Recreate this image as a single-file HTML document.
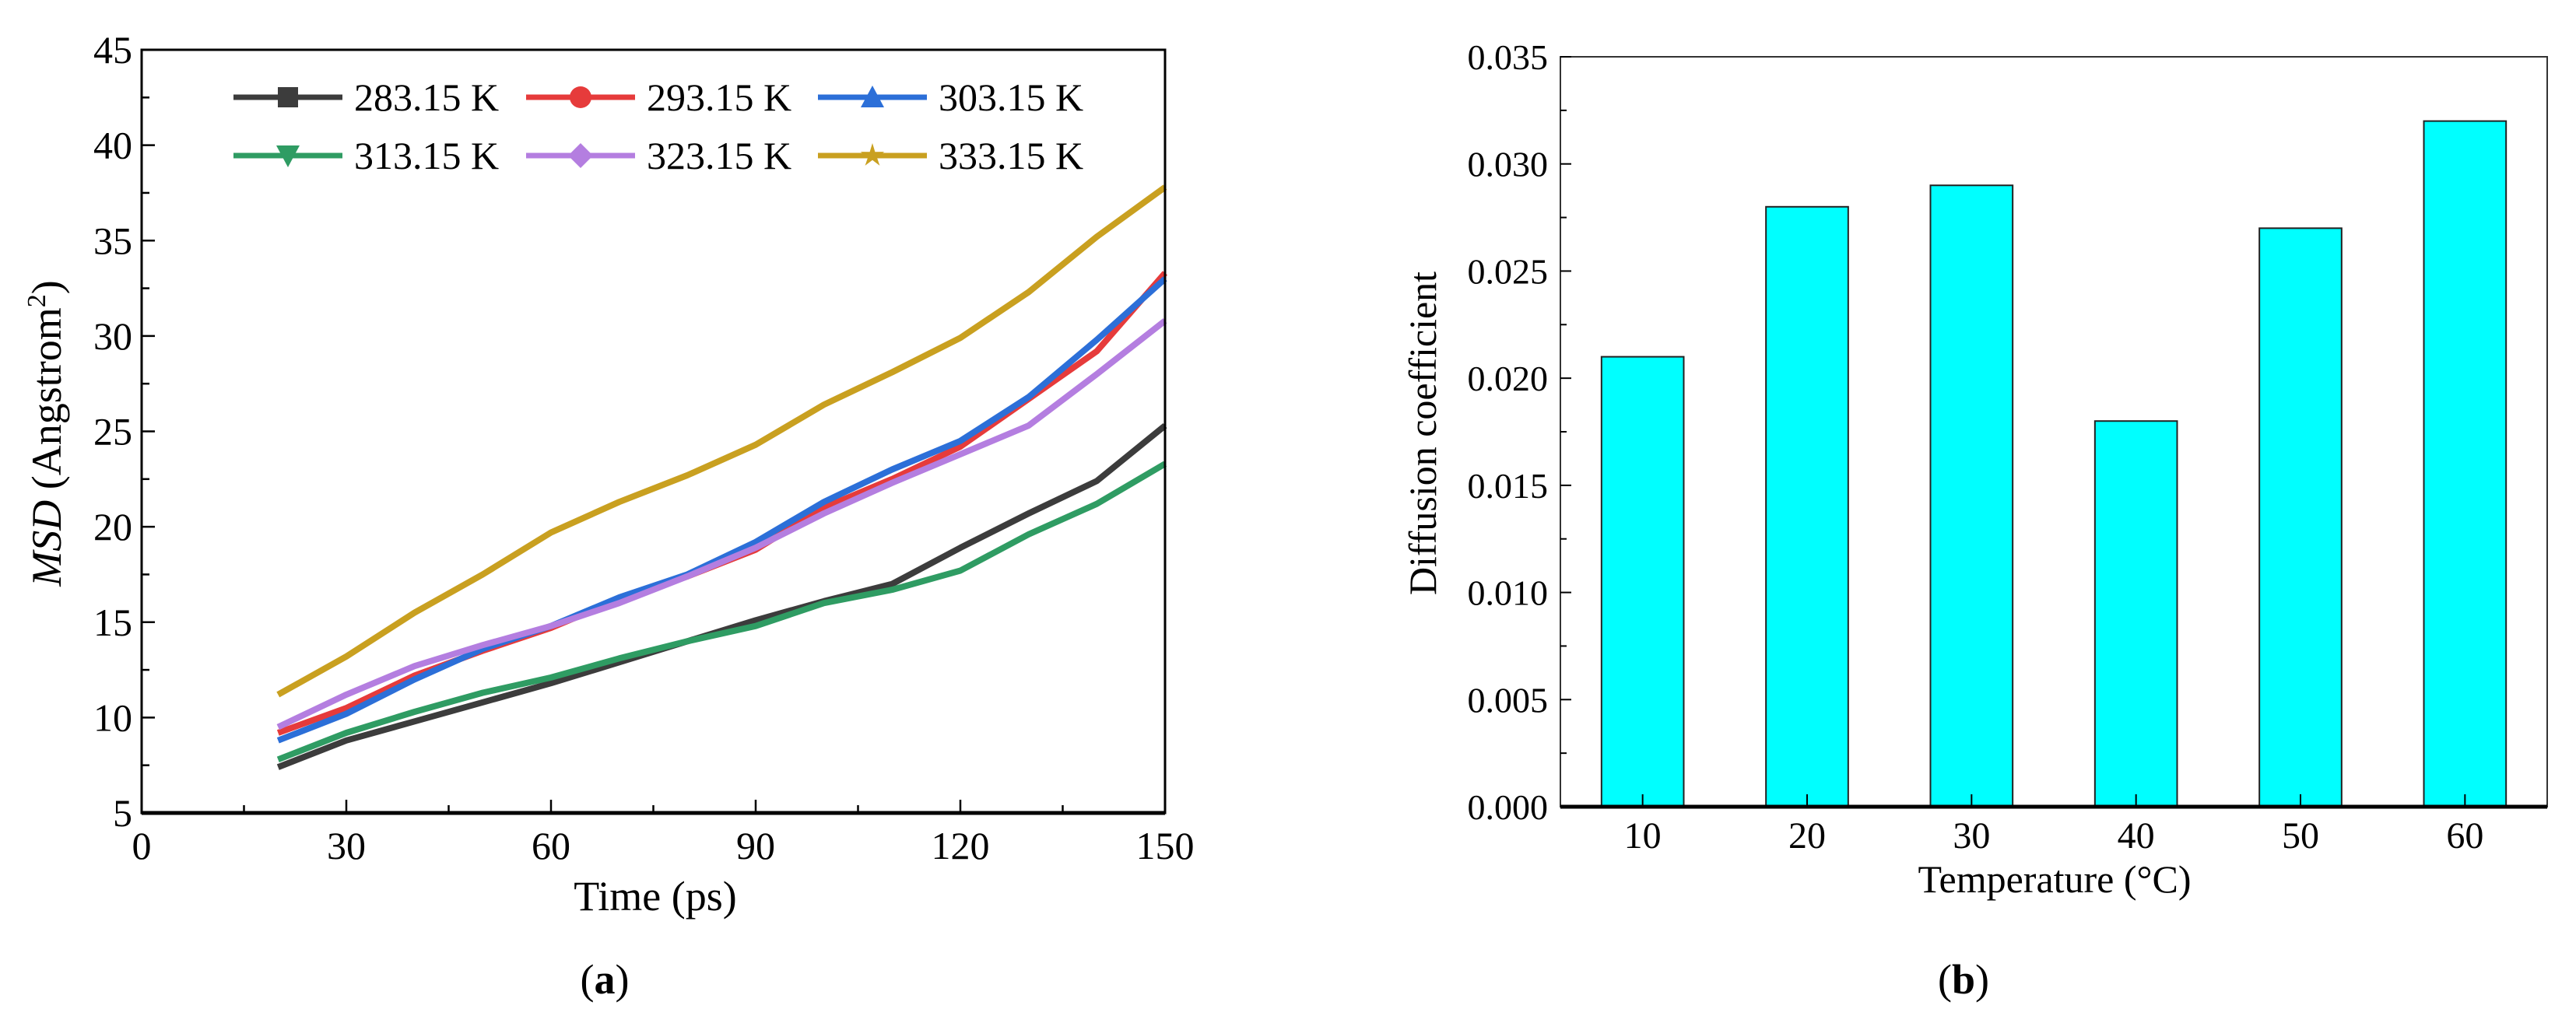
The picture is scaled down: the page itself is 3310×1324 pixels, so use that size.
<!DOCTYPE html>
<html><head><meta charset="utf-8"><style>
html,body{margin:0;padding:0;background:#fff}
svg{display:block;font-family:"Liberation Serif",serif}
</style></head><body>
<svg id="fig" width="3310" height="1324" viewBox="0 0 3310 1324" xmlns="http://www.w3.org/2000/svg">
<g id="pa"></g>
<g id="pb"></g>
</svg>
<script>
// ---- Chart (a) data ----
const times = [20,30,40,50,60,70,80,90,100,110,120,130,140,150];
const seriesNames = ["283.15 K","293.15 K","303.15 K","313.15 K","323.15 K","333.15 K"];
const s283 = [7.4,8.8,9.8,10.8,11.8,12.9,14.0,15.1,16.1,17.0,18.9,20.7,22.4,25.3];
const s293 = [9.2,10.5,12.2,13.5,14.7,16.2,17.4,18.8,21.0,22.5,24.2,26.7,29.2,33.3];
const s303 = [8.8,10.2,12.0,13.6,14.8,16.3,17.5,19.2,21.3,23.0,24.5,26.8,29.8,33.0];
const s313 = [7.8,9.2,10.3,11.3,12.1,13.1,14.0,14.8,16.0,16.7,17.7,19.6,21.2,23.3];
const s323 = [9.5,11.2,12.7,13.8,14.8,16.0,17.4,18.9,20.7,22.3,23.8,25.3,28.0,30.8];
const s333 = [11.2,13.2,15.5,17.5,19.7,21.3,22.7,24.3,26.4,28.1,29.9,32.3,35.2,37.8];
const xTicksA = [0,30,60,90,120,150];
const yTicksA = [5,10,15,20,25,30,35,40,45];
// ---- Chart (b) data ----
const temps = [10,20,30,40,50,60];
const diffVals = [0.021,0.028,0.029,0.018,0.027,0.032];
const yTicksB = [0,0.005,0.010,0.015,0.020,0.025,0.030,0.035];

const NS="http://www.w3.org/2000/svg";
function mk(parent,tag,attrs,text){const e=document.createElementNS(NS,tag);for(const k in attrs)e.setAttribute(k,attrs[k]);if(text!==undefined)e.textContent=text;parent.appendChild(e);return e;}

// ===== Chart A =====
const pa=document.getElementById('pa');
const AL=182,AR=1497,AT=64,AB=1045;
const xa=v=>AL+(v-0)/(150-0)*(AR-AL);
const ya=v=>AB-(v-5)/(45-5)*(AB-AT);
const colors=["#3c3c3c","#e63b3b","#2c6fd8","#2f9c63","#b47ee0","#c9a020"];
const allS=[s283,s293,s303,s313,s323,s333];
allS.forEach((s,i)=>{
  const pts=s.map((v,j)=>xa(times[j]).toFixed(1)+","+ya(v).toFixed(1)).join(" ");
  const pl=mk(pa,'polyline',{points:pts,fill:'none',stroke:colors[i],'stroke-width':8,'stroke-linejoin':'round'});
  
  
});
const fa=mk(pa,'rect',{x:AL,y:AT,width:AR-AL,height:AB-AT,fill:'none',stroke:'#000','stroke-width':3});


mk(pa,'line',{x1:AL,y1:AB,x2:AR,y2:AB,stroke:'#000','stroke-width':5});
for(let v=0;v<=150;v+=15){const maj=v%30===0;mk(pa,'line',{x1:xa(v),y1:AB,x2:xa(v),y2:AB-(maj?17:10),stroke:'#000','stroke-width':2.5});}
xTicksA.forEach(v=>{const t=mk(pa,'text',{x:xa(v),y:1104,'font-size':50,'text-anchor':'middle'},String(v));
  
  });
for(let v=5;v<=45;v+=2.5){const maj=v%5===0;mk(pa,'line',{x1:AL,y1:ya(v),x2:AL+(maj?17:10),y2:ya(v),stroke:'#000','stroke-width':2.5});}
yTicksA.forEach(v=>{const t=mk(pa,'text',{x:AL-12,y:ya(v)+17,'font-size':50,'text-anchor':'end'},String(v));
  
  });
const xtA=mk(pa,'text',{x:842,y:1170,'font-size':54,'text-anchor':'middle'},'Time (ps)');


const ytA=mk(pa,'text',{x:0,y:0,'font-size':54,'text-anchor':'middle',transform:'translate(78,557) rotate(-90)'});


mk(ytA,'tspan',{'font-style':'italic'},'MSD');
mk(ytA,'tspan',{},' (Angstrom');
mk(ytA,'tspan',{'font-size':34,dy:-20},'2');
mk(ytA,'tspan',{dy:20},')');
const capA=mk(pa,'text',{x:777,y:1277,'font-size':54,'text-anchor':'middle'});


mk(capA,'tspan',{},'(');mk(capA,'tspan',{'font-weight':'bold'},'a');mk(capA,'tspan',{},')');
const legX=[300,676,1051],legY=[125,200];
function marker(g,type,cx,cy,c){
  const r=13;
  if(type===0)mk(g,'rect',{x:cx-r,y:cy-r,width:2*r,height:2*r,fill:c});
  else if(type===1)mk(g,'circle',{cx:cx,cy:cy,r:r+1,fill:c});
  else if(type===2)mk(g,'polygon',{points:`${cx},${cy-r-2} ${cx+r+2},${cy+r} ${cx-r-2},${cy+r}`,fill:c});
  else if(type===3)mk(g,'polygon',{points:`${cx},${cy+r+2} ${cx+r+2},${cy-r} ${cx-r-2},${cy-r}`,fill:c});
  else if(type===4)mk(g,'polygon',{points:`${cx},${cy-r-3} ${cx+r+3},${cy} ${cx},${cy+r+3} ${cx-r-3},${cy}`,fill:c});
  else{let p=[];for(let k=0;k<10;k++){const a=-Math.PI/2+k*Math.PI/5;const rr=k%2?r*0.45:r+3;p.push((cx+rr*Math.cos(a)).toFixed(1)+","+(cy+rr*Math.sin(a)).toFixed(1));}mk(g,'polygon',{points:p.join(" "),fill:c});}
}
seriesNames.forEach((n,i)=>{
  const g=mk(pa,'g',{});
  
  
  const x=legX[i%3],y=legY[Math.floor(i/3)];
  mk(g,'line',{x1:x,y1:y,x2:x+140,y2:y,stroke:colors[i],'stroke-width':7});
  marker(g,i,x+70,y,colors[i]);
  mk(g,'text',{x:x+155,y:y+17,'font-size':50},n);
});

// ===== Chart B =====
const pb=document.getElementById('pb');
const BL=2005,BR=3273,BT=73,BB=1037;
const xb=v=>BL+(v-5)/(65-5)*(BR-BL);
const yb=v=>BB-(v-0)/(0.035)*(BB-BT);
temps.forEach((t,i)=>{
  const w=xb(10)-xb(5);
  const r=mk(pb,'rect',{x:xb(t)-w/2,y:yb(diffVals[i]),width:w,height:BB-yb(diffVals[i]),fill:'#00ffff',stroke:'#222','stroke-width':2});
  
  
});
const fb=mk(pb,'rect',{x:BL,y:BT,width:BR-BL,height:BB-BT,fill:'none',stroke:'#333','stroke-width':2});


mk(pb,'line',{x1:BL,y1:BB,x2:BR,y2:BB,stroke:'#000','stroke-width':5});
temps.forEach(t=>{
  mk(pb,'line',{x1:xb(t),y1:BB,x2:xb(t),y2:BB-16,stroke:'#000','stroke-width':2});
  const tx=mk(pb,'text',{x:xb(t),y:1090,'font-size':48,'text-anchor':'middle'},String(t));
  
  
});
for(let k=0;k<=14;k++){const v=k*0.0025;mk(pb,'line',{x1:BL,y1:yb(v),x2:BL+(k%2?8:14),y2:yb(v),stroke:'#000','stroke-width':2});}
yTicksB.forEach(v=>{const t=mk(pb,'text',{x:BL-16,y:yb(v)+16,'font-size':46,'text-anchor':'end'},v.toFixed(3));
  
  });
const xtB=mk(pb,'text',{x:2640,y:1147,'font-size':50,'text-anchor':'middle'},'Temperature (°C)');


const ytB=mk(pb,'text',{x:0,y:0,'font-size':50,'text-anchor':'middle',transform:'translate(1845,557) rotate(-90)'},'Diffusion coefficient');


const capB=mk(pb,'text',{x:2523,y:1277,'font-size':54,'text-anchor':'middle'});


mk(capB,'tspan',{},'(');mk(capB,'tspan',{'font-weight':'bold'},'b');mk(capB,'tspan',{},')');
</script>
</body></html>
